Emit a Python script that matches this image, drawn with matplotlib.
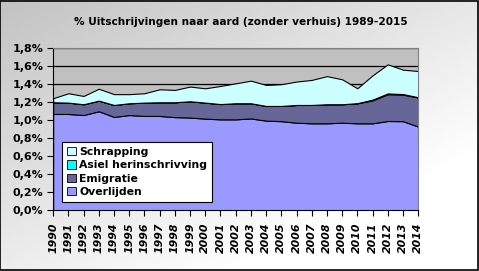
import matplotlib
matplotlib.use("Agg")
import matplotlib.pyplot as plt
import matplotlib.transforms as mtransforms
from matplotlib.patches import Patch, Rectangle
from matplotlib.ticker import FuncFormatter, MultipleLocator
import numpy as np

years = list(range(1990, 2015))

# values in % (stacked layers)
overlijden = [1.07, 1.07, 1.058, 1.10, 1.037, 1.058, 1.048, 1.048, 1.035, 1.03,
              1.018, 1.01, 1.01, 1.02, 0.996, 0.99, 0.973, 0.966, 0.966, 0.973,
              0.966, 0.966, 0.992, 0.99, 0.93]
emigratie = [0.13, 0.126, 0.12, 0.118, 0.133, 0.131, 0.148, 0.152, 0.165, 0.181,
             0.178, 0.17, 0.179, 0.169, 0.163, 0.169, 0.197, 0.204, 0.212, 0.205,
             0.222, 0.255, 0.298, 0.295, 0.323]
asiel = [0, 0, 0, 0, 0, 0, 0, 0, 0, 0,
         0, 0, 0, 0, 0, 0, 0, 0, 0, 0,
         0.002, 0.008, 0.008, 0.006, 0.003]
schrapping = [0.045, 0.104, 0.092, 0.132, 0.12, 0.101, 0.104, 0.144, 0.137, 0.163,
              0.159, 0.201, 0.221, 0.251, 0.233, 0.241, 0.26, 0.278, 0.312, 0.277,
              0.165, 0.27, 0.323, 0.271, 0.291]

labels = ["Overlijden", "Emigratie", "Asiel herinschrivving", "Schrapping"]
colors = ["#9999FF", "#666699", "#00FFFF", "#CCFFFF"]

fig = plt.figure(figsize=(4.79, 2.71), dpi=100)

# gradient background
bg = fig.add_axes([0, 0, 1, 1], zorder=-10)
gx, gy = np.meshgrid(np.linspace(0, 1, 200), np.linspace(0, 1, 200))
grad = 0.76 + 0.24 * np.clip(0.6 * gx + 0.7 * gy, 0, 1)
bg.imshow(grad, cmap="gray", vmin=0, vmax=1, aspect="auto", extent=[0, 1, 0, 1],
          origin="upper")
bg.set_axis_off()
fig.patches.append(Rectangle((0.001, 0.002), 0.997, 0.995, transform=fig.transFigure,
                             fill=False, edgecolor="black", linewidth=1.2))

ax = fig.add_axes([0.111, 0.224, 0.762, 0.598])
ax.set_facecolor("#C0C0C0")
x = np.arange(len(years))
ax.stackplot(x, overlijden, emigratie, asiel, schrapping, colors=colors,
             edgecolor="black", linewidth=0.8, zorder=2)

ax.set_xlim(0, len(years) - 1)
ax.set_ylim(0, 1.8)
ax.yaxis.set_major_locator(MultipleLocator(0.2))
ax.yaxis.set_major_formatter(FuncFormatter(lambda v, p: f"{v:.1f}%".replace(".", ",")))
ax.grid(axis="y", color="black", linewidth=0.9, zorder=0)
ax.set_axisbelow(True)

ax.set_xticks(x)
ax.set_xticklabels([str(y) for y in years], rotation=90, fontsize=7.8,
                   fontweight="bold", fontstyle="italic", va="top")
offset = mtransforms.ScaledTranslation(-0.055, 0, fig.dpi_scale_trans)
for lab in ax.get_xticklabels():
    lab.set_transform(lab.get_transform() + offset)

ax.tick_params(axis="y", labelsize=8, length=4, width=0.8, pad=3)
ax.tick_params(axis="x", length=4, width=0.8, pad=5)
for lab in ax.get_yticklabels():
    lab.set_fontweight("bold")

for side in ["top", "right"]:
    ax.spines[side].set_color("#808080")
ax.spines["left"].set_color("black")
ax.spines["bottom"].set_color("black")

fig.text(0.503, 0.918, "% Uitschrijvingen naar aard (zonder verhuis) 1989-2015",
         ha="center", va="center", fontsize=7.6, fontweight="bold")

handles = [Patch(facecolor=c, edgecolor="black", linewidth=0.6) for c in colors]
leg = ax.legend(handles[::-1], labels[::-1], loc="lower left",
                bbox_to_anchor=(0.01, 0.02), fancybox=False, framealpha=1,
                edgecolor="black", prop={"size": 7.8, "weight": "bold"},
                handlelength=0.8, handleheight=0.8, handletextpad=0.3,
                labelspacing=0.3, borderpad=0.45)
leg.get_frame().set_linewidth(0.8)

fig.savefig("out.png", dpi=100)
